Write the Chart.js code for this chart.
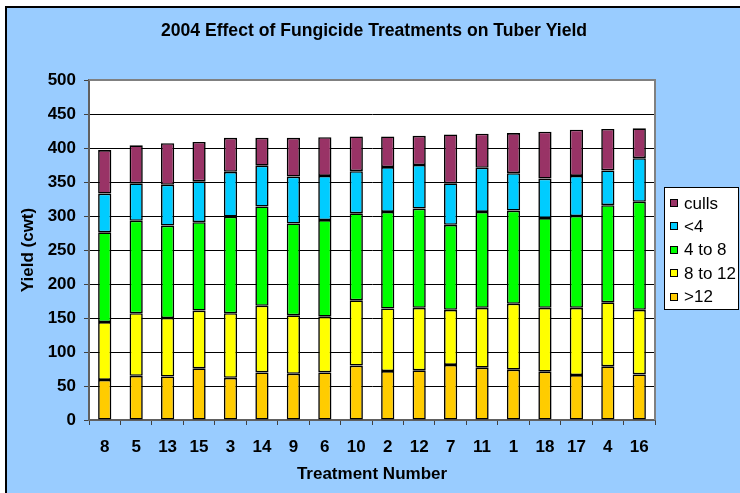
<!DOCTYPE html>
<html>
<head>
<meta charset="utf-8">
<script src="https://cdn.jsdelivr.net/npm/chart.js@4.4.1/dist/chart.umd.min.js"></script>
<style>
  html, body { margin: 0; padding: 0; background: #ffffff; }
  #c { display: block; }
</style>
</head>
<body>
<canvas id="c" width="740" height="493"></canvas>
<script>
// ---- data ----
const categories = ['8','5','13','15','3','14','9','6','10','2','12','7','11','1','18','17','4','16'];
const seriesNames = ['>12', '8 to 12', '4 to 8', '<4', 'culls'];
const gt12    = [59, 65, 64, 76, 62, 70, 68, 70, 80, 72, 73, 81, 77, 74, 71, 66, 79, 67];
const s8to12  = [85, 92, 86, 85, 95, 98, 86, 82, 96, 92, 92, 81, 88, 97, 94, 99, 94, 95];
const s4to8   = [132,136,136,130,142,146,135,142,128,142,146,125,141,137,132,135,143,159];
const lt4     = [57, 55, 60, 60, 66, 60, 69, 65, 62, 66, 64, 61, 65, 55, 58, 59, 51, 64];
const culls   = [64, 56, 61, 58, 50, 41, 57, 57, 51, 45, 43, 72, 50, 59, 69, 68, 61, 44];
const yTicks  = [0, 50, 100, 150, 200, 250, 300, 350, 400, 450, 500];
const titleText = '2004 Effect of Fungicide Treatments on Tuber Yield';
const xTitle = 'Treatment Number';
const yTitle = 'Yield (cwt)';

const colors = ['#FFCC00', '#FFFF00', '#00FF00', '#00CCFF', '#993366'];
const seriesValues = [gt12, s8to12, s4to8, lt4, culls];
const FONT = "'Liberation Sans', Arial, Helvetica, sans-serif";

const datasets = seriesNames.map((name, i) => ({
  label: name,
  data: seriesValues[i],
  backgroundColor: colors[i],
  borderColor: '#000000',
  borderWidth: 1.6,
  borderSkipped: false,
  inflateAmount: 0,
  barPercentage: 0.42,
  categoryPercentage: 1.0
}));

const backgroundPlugin = {
  id: 'bgFrame',
  beforeDraw(chart) {
    const ctx = chart.ctx;
    const a = chart.chartArea;
    ctx.save();
    ctx.fillStyle = '#ffffff';
    ctx.fillRect(0, 0, chart.width, chart.height);
    ctx.fillStyle = '#99CCFF';
    ctx.fillRect(6, 7, chart.width - 6, chart.height - 7);
    ctx.strokeStyle = '#000000';
    ctx.lineWidth = 2;
    ctx.beginPath();
    ctx.moveTo(6, chart.height);
    ctx.lineTo(6, 7);
    ctx.lineTo(chart.width, 7);
    ctx.stroke();
    ctx.fillStyle = '#ffffff';
    ctx.fillRect(a.left, a.top, a.right - a.left, a.bottom - a.top);
    ctx.restore();
  },
  afterDraw(chart) {
    const ctx = chart.ctx;
    const a = chart.chartArea;
    ctx.save();
    ctx.strokeStyle = '#808080';
    ctx.lineWidth = 2;
    ctx.beginPath();
    ctx.moveTo(a.left, a.top);
    ctx.lineTo(a.right, a.top);
    ctx.lineTo(a.right, a.bottom);
    ctx.stroke();
    // legend box
    const lx = 664, ly = 187, lw = 74, lh = 122;
    ctx.fillStyle = '#ffffff';
    ctx.fillRect(lx, ly, lw, lh);
    ctx.strokeStyle = '#000000';
    ctx.lineWidth = 1;
    ctx.strokeRect(lx + 0.5, ly + 0.5, lw, lh);
    const ds = chart.data.datasets;
    ctx.font = '17px ' + FONT;
    ctx.textBaseline = 'middle';
    ctx.textAlign = 'left';
    for (let k = 0; k < ds.length; k++) {
      const d = ds[ds.length - 1 - k];
      const cy = 203 + k * 23.4;
      ctx.fillStyle = d.backgroundColor;
      ctx.fillRect(670, Math.round(cy - 4), 8, 8);
      ctx.strokeStyle = '#000000';
      ctx.strokeRect(670.5, Math.round(cy - 4) + 0.5, 7, 7);
      ctx.fillStyle = '#000000';
      ctx.fillText(d.label, 684, cy + 1);
    }
    ctx.restore();
  }
};

new Chart(document.getElementById('c'), {
  type: 'bar',
  data: { labels: categories, datasets: datasets },
  options: {
    responsive: false,
    animation: false,
    devicePixelRatio: 1,
    layout: { padding: { left: 8, right: 0, top: 0, bottom: 0 } },
    plugins: {
      legend: { display: false },
      tooltip: { enabled: false },
      title: {
        display: true,
        text: titleText,
        color: '#000000',
        font: { family: FONT, size: 17.6, weight: 'bold' },
        padding: { top: 20.5, bottom: 38.4 }
      }
    },
    scales: {
      x: {
        stacked: true,
        offset: true,
        grid: { display: true, drawOnChartArea: false, drawTicks: true, tickLength: 5, tickColor: '#404040', offset: true },
        border: { color: '#606060', width: 2 },
        ticks: { color: '#000000', font: { family: FONT, size: 17, weight: 'bold' }, padding: 12, maxRotation: 0, autoSkip: false },
        title: { display: true, text: xTitle, color: '#000000', font: { family: FONT, size: 17, weight: 'bold' }, padding: { top: 0, bottom: 8 } },
        afterFit(scale) { scale.height = 73; }
      },
      y: {
        stacked: true,
        min: 0,
        max: 500,
        afterBuildTicks(scale) { scale.ticks = yTicks.map(v => ({ value: v })); },
        grid: { color: '#000000', lineWidth: 1, tickLength: 5, tickColor: '#404040' },
        border: { color: '#606060', width: 2 },
        ticks: { color: '#000000', font: { family: FONT, size: 17, weight: 'bold' }, padding: 8 },
        title: { display: true, text: yTitle, color: '#000000', font: { family: FONT, size: 17, weight: 'bold' }, padding: { top: 10, bottom: 0 } },
        afterFit(scale) { scale.width = 81; }
      },
      yRight: {
        position: 'right',
        display: true,
        min: 0,
        max: 500,
        grid: { display: false, drawTicks: false },
        border: { display: false },
        ticks: { display: false },
        afterFit(scale) { scale.width = 85; }
      }
    }
  },
  plugins: [backgroundPlugin]
});
</script>
</body>
</html>
